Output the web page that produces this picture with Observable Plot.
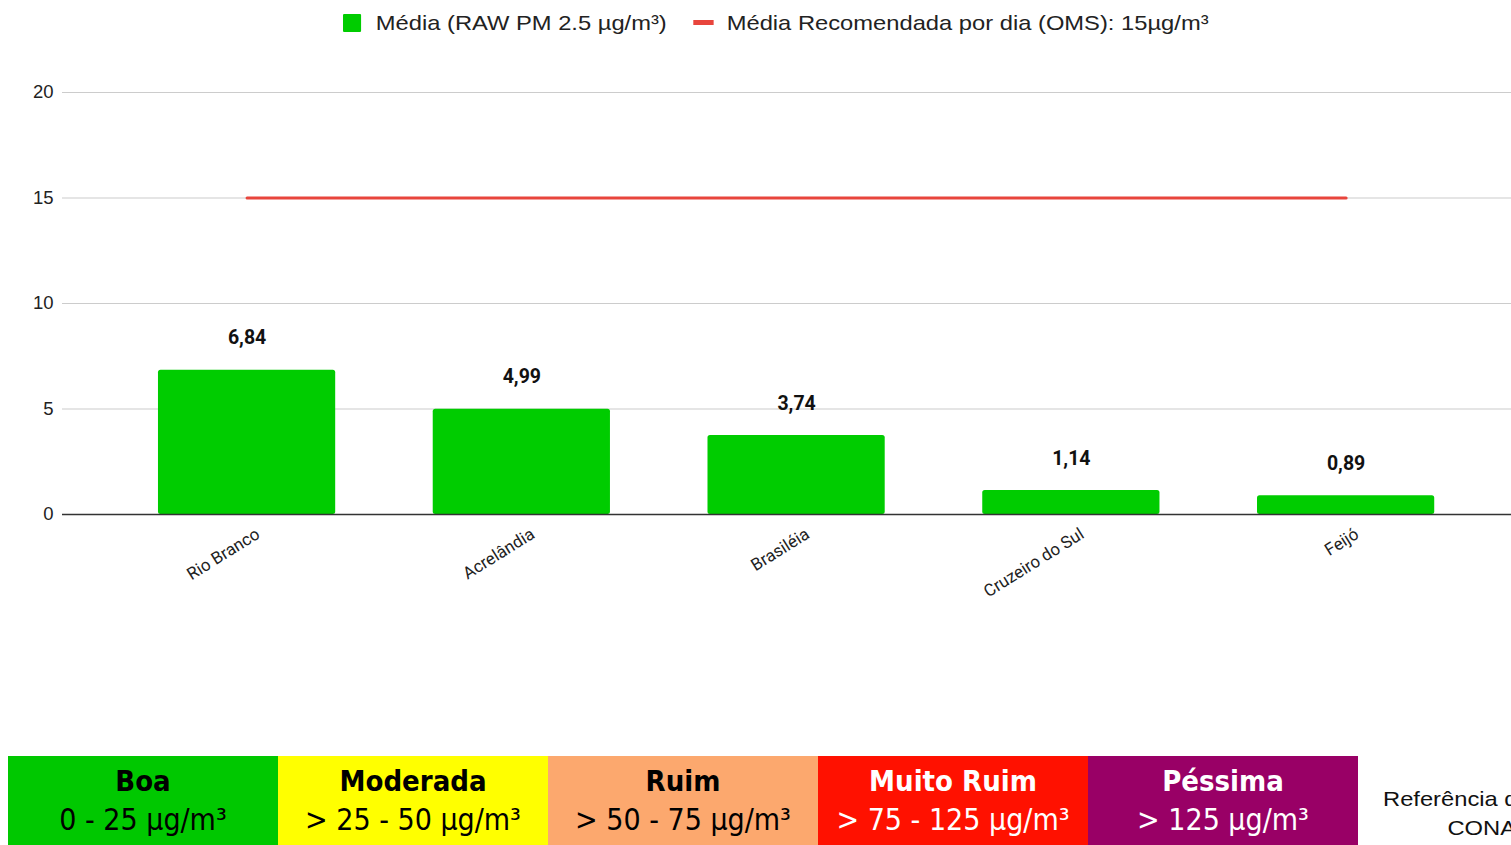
<!DOCTYPE html>
<html>
<head>
<meta charset="utf-8">
<script src="https://cdn.jsdelivr.net/npm/d3@7"></script>
<script src="https://cdn.jsdelivr.net/npm/@observablehq/plot@0.6"></script>
<style>
  html, body { margin: 0; padding: 0; width: 1511px; height: 845px; overflow: hidden; background: #fff; }
  #legend { position: absolute; top: 0; left: 343px; height: 45px; display: flex; align-items: center;
    font-family: "Liberation Sans", Arial, sans-serif; font-size: 21px; color: #222; white-space: nowrap;
    transform: scaleX(1.13); transform-origin: 0 50%; }
  #legend .sw { display: inline-block; margin-right: 13px; }
  #legend .item { display: flex; align-items: center; margin-right: 23px; }
  #chart { position: absolute; top: 45px; left: 0; }
  #bands { position: absolute; top: 756px; left: 8px; display: flex; }
  #bands .b { width: 270px; height: 100px; text-align: center; font-family: "Liberation Sans Narrow", "DejaVu Sans Condensed", "Open Sans", sans-serif; }
  #bands .t { font-weight: bold; font-size: 29px; line-height: 29px; margin-top: 11px; }
  #bands .r { font-size: 30px; line-height: 30px; margin-top: 9px; }
  #ref { position: absolute; top: 784px; left: 1383px; font-family: "Liberation Sans", Arial, sans-serif; font-size: 21px; color: #111; line-height: 29px; white-space: nowrap;
    transform: scaleX(1.13); transform-origin: 0 50%; }
</style>
</head>
<body>
<div id="legend"></div>
<div id="chart"></div>
<div id="bands"></div>
<div id="ref"></div>
<script>
// ---- data ----
const cities = ["Rio Branco", "Acrelândia", "Brasiléia", "Cruzeiro do Sul", "Feijó"];
const media = [6.84, 4.99, 3.74, 1.14, 0.89];
const recommended = [15];
const yTicks = [0, 5, 10, 15, 20];
const legendLabels = ["Média (RAW PM 2.5 µg/m³)", "Média Recomendada por dia (OMS): 15µg/m³"];
const qualityNames = ["Boa", "Moderada", "Ruim", "Muito Ruim", "Péssima"];
const qualityRanges = ["0 - 25 µg/m³", "> 25 - 50 µg/m³", "> 50 - 75 µg/m³", "> 75 - 125 µg/m³", "> 125 µg/m³"];
const refLines = ["Referência do", "CONAMA"];

// ---- styles ----
const barColor = "#00cc00";
const lineColor = "#e8453c";
const qualityColors = ["#00c800", "#ffff00", "#fca86e", "#ff1100", "#990066"];
const qualityText = ["#000", "#000", "#000", "#fff", "#fff"];

const rows = cities.map((c, i) => ({city: c, value: media[i]}));
const fmt = v => v.toFixed(2).replace(".", ",");

// legend
const legend = document.getElementById("legend");
legend.innerHTML =
  `<span class="item"><span class="sw" style="width:16px;height:18px;background:${barColor};border-radius:1px"></span>${legendLabels[0]}</span>` +
  `<span class="item"><span class="sw" style="width:18px;height:5px;background:${lineColor};margin-right:12px"></span>${legendLabels[1]}</span>`;

const chart = Plot.plot({
  width: 1511,
  height: 640,
  marginTop: 47,
  marginBottom: 171,
  marginLeft: 62,
  marginRight: 0,
  style: {fontFamily: "Liberation Sans, Arial, sans-serif", background: "#fff"},
  x: {type: "band", domain: cities, range: [109.2, 1483], paddingInner: 0.355, paddingOuter: 0.1775, round: false, label: null},
  y: {domain: [0, 20], ticks: yTicks, label: null},
  marks: [
    Plot.ruleY(yTicks.filter(d => d !== 0), {stroke: "#cccccc", strokeWidth: 1.2}),
    Plot.barY(rows, {x: "city", y: "value", fill: barColor, rx: 2.5}),
    Plot.ruleY([0], {stroke: "#333", strokeWidth: 1.5}),
    Plot.lineY(cities.filter((d, i) => i === 0 || i === cities.length - 1), {x: d => d, y: () => recommended[0], stroke: lineColor, strokeWidth: 3}),
    Plot.text(rows, {x: "city", y: "value", text: d => fmt(d.value), dy: -32, fontFamily: "Roboto, sans-serif", fontWeight: "bold", fontSize: 19.5, fill: "#111"}),
    Plot.axisY({ticks: yTicks, tickSize: 0, tickPadding: 9, fontSize: 18.5, fill: "#222"}),
    Plot.axisX({tickSize: 0, tickRotate: -32, tickPadding: 4, dx: 11, dy: 14, fontSize: 17, fontFamily: "Roboto, sans-serif", fill: "#222"})
  ]
});
document.getElementById("chart").appendChild(chart);

// quality bands
const bands = document.getElementById("bands");
qualityNames.forEach((n, i) => {
  const d = document.createElement("div");
  d.className = "b";
  d.style.background = qualityColors[i];
  d.style.color = qualityText[i];
  d.innerHTML = `<div class="t">${n}</div><div class="r">${qualityRanges[i]}</div>`;
  bands.appendChild(d);
});

const ref = document.getElementById("ref");
ref.innerHTML = `<div>${refLines[0]}</div><div style="padding-left:57px">${refLines[1]}</div>`;
</script>
</body>
</html>
